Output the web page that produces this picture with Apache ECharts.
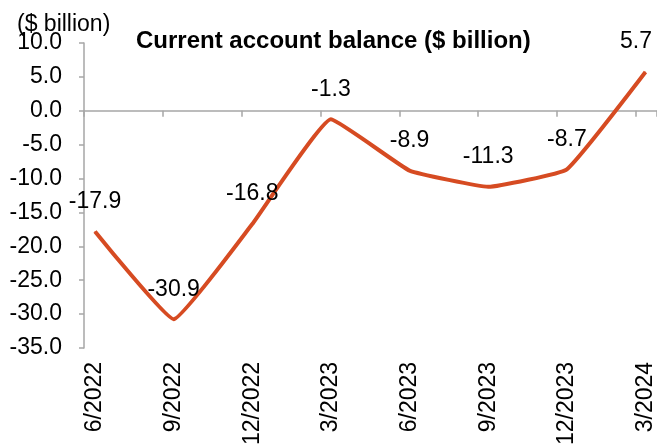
<!DOCTYPE html>
<html>
<head>
<meta charset="utf-8">
<script src="https://cdn.jsdelivr.net/npm/echarts@6/dist/echarts.min.js"></script>
<style>html,body{margin:0;padding:0;background:#fff;}#c{width:657px;height:448px;}</style>
</head>
<body>
<div id="c"></div>
<script>
const categories = ['6/2022','9/2022','12/2022','3/2023','6/2023','9/2023','12/2023','3/2024'];
const values = [-17.9, -30.9, -16.8, -1.3, -8.9, -11.3, -8.7, 5.7];
const yTicks = [-35, -30, -25, -20, -15, -10, -5, 0, 5, 10];
const titleText = 'Current account balance ($ billion)';
const unitText = '($ billion)';

const FONT = '"Liberation Sans", Arial, sans-serif';
const GRAY = '#a6a6a6';
const LINE = '#d64b22';
const chart = echarts.init(document.getElementById('c'), null, {renderer: 'canvas'});
const step = 78.85;
const leftPx = 84, widthPx = 657 - leftPx;
const yMin = yTicks[0], yMax = yTicks[yTicks.length - 1];

chart.setOption({
  animation: false,
  backgroundColor: '#fff',
  textStyle: {fontFamily: FONT},
  title: [
    {text: titleText, left: 131, top: 24, textStyle: {fontFamily: FONT, fontSize: 24, fontWeight: 'bold', color: '#000'}},
    {text: unitText, left: 12, top: 8, textStyle: {fontFamily: FONT, fontSize: 23, fontWeight: 'normal', color: '#000'}}
  ],
  grid: [
    {left: leftPx, right: 0, top: 43, bottom: 100, containLabel: false},
    {left: 95, right: 10, top: 43, bottom: 100, containLabel: false}
  ],
  xAxis: [
    {
      gridIndex: 0, type: 'value', position: 'top', min: 0, max: widthPx / step, interval: 1,
      axisLine: {show: true, onZero: true, lineStyle: {color: GRAY, width: 1.5}},
      axisTick: {show: true, inside: true, length: 6, lineStyle: {color: GRAY, width: 1.5}},
      axisLabel: {show: false}, splitLine: {show: false}
    },
    {
      gridIndex: 1, type: 'category', data: categories, boundaryGap: false, position: 'bottom',
      axisLine: {show: false, onZero: false}, axisTick: {show: false}, splitLine: {show: false},
      axisLabel: {rotate: 90, margin: 15, fontSize: 23, color: '#000', fontFamily: FONT, interval: 0}
    }
  ],
  yAxis: [
    {
      gridIndex: 0, type: 'value', min: yMin, max: yMax, interval: 5,
      axisLine: {show: true, lineStyle: {color: GRAY, width: 1.5}},
      axisTick: {show: true, length: 5, lineStyle: {color: GRAY, width: 1.5}},
      splitLine: {show: false},
      axisLabel: {margin: 22, fontSize: 23, color: '#000', fontFamily: FONT, formatter: v => v.toFixed(1)}
    },
    {
      gridIndex: 1, type: 'value', min: yMin, max: yMax, interval: 5, show: false
    }
  ],
  series: [{
    type: 'line', xAxisIndex: 1, yAxisIndex: 1, data: values, smooth: 0.1,
    symbol: 'circle', symbolSize: 1, showSymbol: true,
    lineStyle: {color: LINE, width: 4},
    itemStyle: {color: LINE},
    label: {show: true, position: 'top', distance: 18, fontSize: 23, color: '#000', fontFamily: FONT,
      formatter: p => p.value.toFixed(1)},
    labelLayout: function (p) {
      const r = p.labelRect;
      const over = r.x + r.width - 652;
      return over > 0 ? {dx: -over} : {};
    }
  }]
});
</script>
</body>
</html>
